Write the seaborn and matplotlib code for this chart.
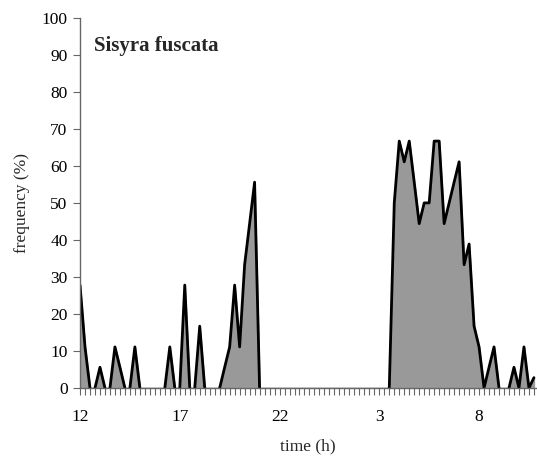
import numpy as np
import pandas as pd
import matplotlib
matplotlib.use("Agg")
import matplotlib.pyplot as plt
import seaborn as sns

# frequency (%) every 15 min, starting at 12:00
freq = [27.8, 11.1, 0, 0, 5.6, 0, 0, 11.1, 5.6, 0,
        0, 11.1, 0, 0, 0, 0, 0, 0, 11.1, 0,
        0, 27.8, 0, 0, 16.7, 0, 0, 0, 0, 5.6,
        11.1, 27.8, 11.1, 33.3, 44.4, 55.6, 0, 0, 0, 0,
        0, 0, 0, 0, 0, 0, 0, 0, 0, 0,
        0, 0, 0, 0, 0, 0, 0, 0, 0, 0,
        0, 0, 0, 50.0, 66.7, 61.1, 66.7, 55.6, 44.4, 50.0,
        50.0, 66.7, 66.7, 44.4, 50.0, 55.6, 61.1, 33.3, 38.9, 16.7,
        11.1, 0, 5.6, 11.1, 0, 0, 0, 5.6, 0, 11.1,
        0, 2.8]
hour_labels = ["12", "17", "22", "3", "8"]

df = pd.DataFrame({"step": np.arange(len(freq)), "freq": freq})

# outline pieces: break the line wherever it would run along the zero baseline
rows = []
piece = 0
for i in range(len(freq)):
    if i > 0 and freq[i - 1] == 0 and freq[i] == 0:
        piece += 1
    rows.append((piece, i, freq[i]))
outline = pd.DataFrame(rows, columns=["piece", "step", "freq"])
outline = outline[outline.groupby("piece")["freq"].transform("max") > 0]

sns.set_style("ticks")
plt.rcParams['font.family'] = ['Liberation Serif', 'DejaVu Serif']

fig = plt.figure(figsize=(5.37, 4.57), dpi=100)
ax = fig.add_axes([0.149, 0.151, 0.849, 0.810])

ax.fill_between(df["step"], df["freq"], 0, color="#999999", zorder=1)
sns.lineplot(data=outline, x="step", y="freq", units="piece", estimator=None,
             color="black", linewidth=2, ax=ax, zorder=2)

ax.set_xlim(0, len(freq) - 0.6)
ax.set_ylim(0, 100)
ax.set_yticks(range(0, 101, 10))
ax.set_xticks(range(0, len(freq), 20))
ax.set_xticklabels(hour_labels)
ax.set_xticks(range(0, len(freq)), minor=True)
ax.tick_params(axis="x", which="both", direction="out", length=5, width=0.8,
               colors="#666666", labelcolor="black", labelsize=12.5, pad=10)
ax.tick_params(axis="y", direction="out", length=5, width=0.8,
               colors="#666666", labelcolor="black", labelsize=12.5, pad=4)

for s in ["top", "right"]:
    ax.spines[s].set_visible(False)
for s in ["left", "bottom"]:
    ax.spines[s].set_color("#666666")
    ax.spines[s].set_linewidth(1)
    ax.spines[s].set_zorder(3)

ax.set_xlabel("time (h)", fontsize=12.5, labelpad=10)
ax.set_ylabel("frequency (%)", fontsize=12.5, labelpad=8)
ax.text(0.03, 0.925, "Sisyra fuscata", transform=ax.transAxes, fontsize=15,
        fontweight="bold", ha="left", va="center")

fig.savefig("out.png", dpi=100)
